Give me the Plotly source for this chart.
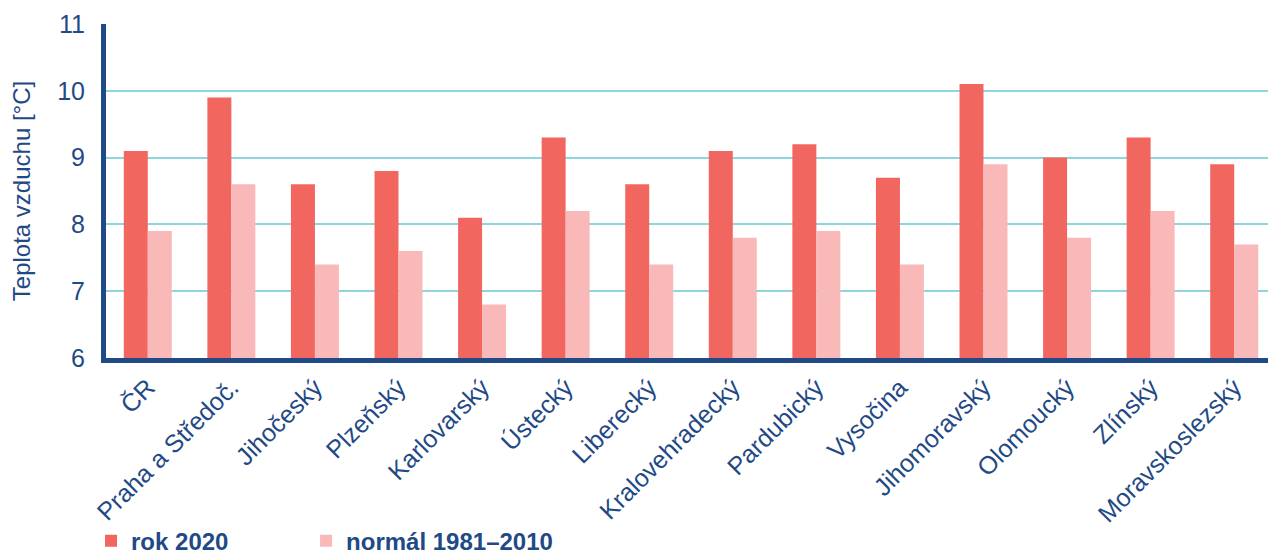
import plotly.graph_objects as go

categories = ["ČR", "Praha a Středoč.", "Jihočeský", "Plzeňský", "Karlovarský", "Ústecký",
              "Liberecký", "Kralovehradecký", "Pardubický", "Vysočina", "Jihomoravský",
              "Olomoucký", "Zlínský", "Moravskoslezský"]
rok_2020 = [9.1, 9.9, 8.6, 8.8, 8.1, 9.3, 8.6, 9.1, 9.2, 8.7, 10.1, 9.0, 9.3, 8.9]
normal_1981_2010 = [7.9, 8.6, 7.4, 7.6, 6.8, 8.2, 7.4, 7.8, 7.9, 7.4, 8.9, 7.8, 8.2, 7.7]
y_ticks = [6, 7, 8, 9, 10, 11]

navy = "#1f4a85"
font_family = "Liberation Sans, Arial, sans-serif"

fig = go.Figure()
fig.add_trace(go.Bar(x=categories, y=rok_2020, name="<b>rok 2020</b>", legend="legend",
                     marker=dict(color="#f26660", line=dict(width=0))))
fig.add_trace(go.Bar(x=categories, y=normal_1981_2010, name="<b>normál 1981–2010</b>",
                     legend="legend2",
                     marker=dict(color="#f9b9b8", line=dict(width=0))))

legend_common = dict(orientation="h", xanchor="left", yref="container", y=0.027,
                     yanchor="middle", font=dict(size=24, color=navy), itemwidth=30,
                     bgcolor="rgba(0,0,0,0)")

fig.update_layout(
    width=1268, height=548,
    margin=dict(l=98, r=0, t=16, b=198),
    paper_bgcolor="white", plot_bgcolor="white",
    barmode="group", bargap=0.426, bargroupgap=0,
    font=dict(family=font_family, color=navy),
    showlegend=True,
    legend=dict(x=-0.0128, **legend_common),
    legend2=dict(x=0.171, **legend_common),
)
fig.update_xaxes(
    showline=True, linewidth=5, linecolor=navy, ticks="", tickangle=-45,
    tickfont=dict(size=25, color=navy), showgrid=False, zeroline=False, automargin=False,
)
fig.update_yaxes(
    range=[6, 11], tickvals=y_ticks, showline=True, linewidth=5, linecolor=navy,
    showgrid=True, gridcolor="#8fd5dc", gridwidth=2, zeroline=False, automargin=False,
    tickfont=dict(size=25, color=navy), ticks="", ticklabelstandoff=11,
    title=dict(text="Teplota vzduchu [°C]", font=dict(size=24, color=navy), standoff=26),
)

fig.write_html("out.html")
